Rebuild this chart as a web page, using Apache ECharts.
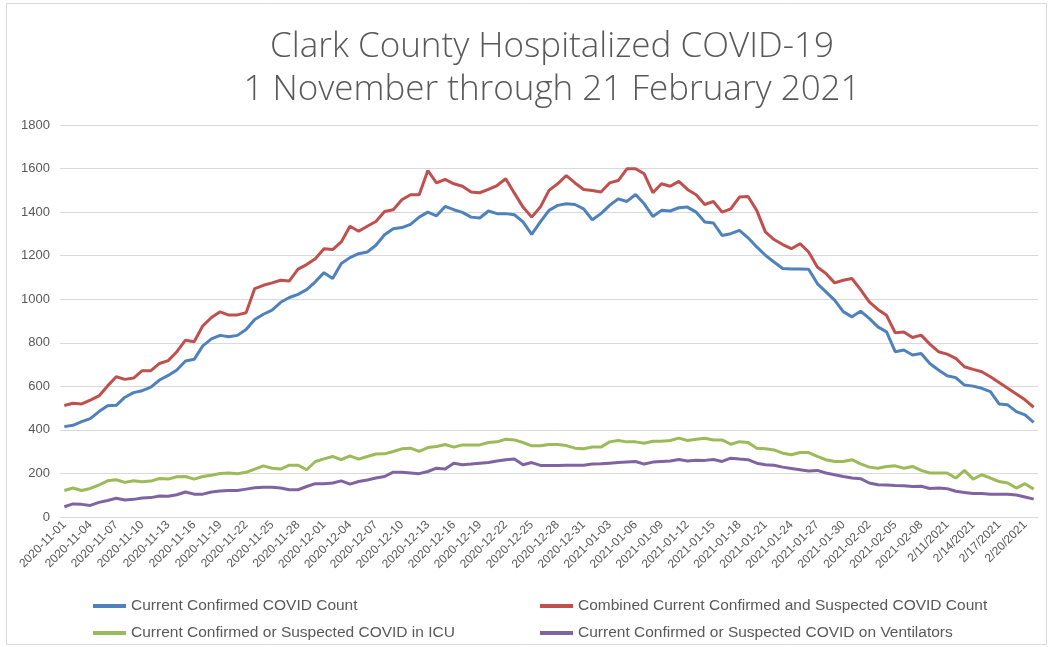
<!DOCTYPE html>
<html>
<head>
<meta charset="utf-8">
<script src="https://cdn.jsdelivr.net/npm/echarts@6/dist/echarts.min.js"></script>
<style>
  html, body { margin: 0; padding: 0; background: #fff; }
  #main { width: 1052px; height: 647px; }
</style>
</head>
<body>
<div id="main"></div>
<script>
// dates 2020-11-01 .. 2021-02-21, the sheet switches to m/d/yyyy on 2/9
var categories = []
var d = new Date(Date.UTC(2020, 10, 1))
var end = new Date(Date.UTC(2021, 1, 21))
while (d <= end) {
  var y = d.getUTCFullYear(), m = d.getUTCMonth() + 1, day = d.getUTCDate()
  if (y === 2021 && m === 2 && day >= 9) {
    categories.push(m + '/' + day + '/' + y)
  } else {
    categories.push(y + '-' + (m < 10 ? '0' + m : m) + '-' + (day < 10 ? '0' + day : day))
  }
  d.setUTCDate(d.getUTCDate() + 1)
}

var confirmed = [
  415, 421, 438, 452, 484, 511, 513, 550, 571, 580, 596, 629, 650, 675, 716, 724, 786, 818, 834,
  828, 834, 861, 907, 931, 950, 986, 1008, 1022, 1044, 1080, 1122, 1095, 1164, 1191, 1209, 1217, 1248, 1296,
  1324, 1329, 1344, 1377, 1400, 1383, 1426, 1411, 1399, 1377, 1373, 1405, 1393, 1393, 1388, 1355, 1298, 1355, 1408,
  1431, 1438, 1435, 1415, 1365, 1393, 1431, 1461, 1449, 1481, 1438, 1380, 1408, 1405, 1420, 1423, 1400, 1355, 1350,
  1293, 1301, 1316, 1282, 1240, 1202, 1171, 1141, 1139, 1139, 1138, 1072, 1034, 996, 943, 919, 945, 912, 873,
  850, 759, 767, 744, 751, 705, 675, 649, 640, 606, 601, 591, 576, 519, 515, 484, 469, 434
]
var combined = [
  512, 522, 519, 537, 556, 602, 644, 632, 638, 672, 672, 705, 718, 759, 812, 805, 878, 916, 942,
  927, 928, 938, 1049, 1064, 1075, 1087, 1084, 1138, 1159, 1186, 1232, 1228, 1263, 1335, 1312, 1335, 1357, 1403,
  1411, 1457, 1480, 1480, 1591, 1534, 1550, 1530, 1519, 1492, 1489, 1504, 1522, 1553, 1487, 1423, 1377, 1423, 1500,
  1530, 1568, 1534, 1504, 1499, 1492, 1534, 1545, 1599, 1599, 1576, 1489, 1530, 1519, 1541, 1504, 1480, 1435, 1449,
  1400, 1415, 1469, 1472, 1408, 1309, 1274, 1251, 1232, 1255, 1217, 1148, 1118, 1075, 1087, 1095, 1044, 988, 953,
  926, 846, 850, 824, 835, 794, 759, 748, 728, 690, 678, 667, 644, 618, 591, 565, 538, 504
]
var icu = [
  122, 133, 122, 131, 147, 166, 171, 159, 166, 162, 165, 177, 174, 185, 186, 174, 186, 192, 200,
  202, 199, 205, 220, 235, 224, 220, 238, 238, 217, 255, 267, 278, 263, 281, 266, 278, 289, 290,
  301, 313, 316, 301, 319, 324, 333, 321, 331, 331, 331, 342, 345, 357, 354, 342, 327, 327, 333,
  333, 328, 316, 313, 321, 321, 345, 351, 345, 345, 339, 348, 348, 351, 362, 351, 357, 362, 354,
  354, 334, 346, 342, 316, 313, 308, 293, 286, 296, 296, 278, 263, 255, 255, 263, 244, 229, 224,
  232, 235, 224, 232, 214, 202, 202, 202, 179, 214, 174, 194, 179, 163, 156, 133, 153, 128
]
var ventilators = [
  47, 60, 58, 53, 67, 76, 86, 78, 81, 87, 89, 96, 95, 102, 115, 105, 105, 115, 119,
  122, 122, 128, 134, 137, 137, 133, 125, 125, 140, 153, 153, 156, 166, 151, 163, 170, 179, 186,
  206, 205, 202, 199, 209, 224, 220, 247, 240, 243, 247, 250, 257, 263, 266, 240, 250, 237, 237,
  237, 238, 238, 238, 243, 244, 247, 250, 253, 255, 243, 252, 255, 257, 264, 257, 261, 260, 264,
  255, 270, 266, 263, 247, 240, 238, 229, 223, 217, 211, 214, 202, 194, 186, 179, 176, 156, 148,
  147, 145, 144, 140, 141, 131, 133, 130, 118, 113, 108, 108, 105, 104, 104, 101, 92, 82
]
var seriesNames = [
  'Current Confirmed COVID Count',
  'Combined Current Confirmed and Suspected COVID Count',
  'Current Confirmed or Suspected COVID in ICU',
  'Current Confirmed or Suspected COVID on Ventilators'
]
var colors = ['#4F81BD', '#C0504D', '#9BBB59', '#8064A2']

var textGray = '#595959'
var legendText = { color: textGray, fontSize: 15.5, fontFamily: 'Liberation Sans' }

function line (i, data) {
  return {
    name: seriesNames[i],
    type: 'line',
    data: data,
    symbol: 'none',
    lineStyle: { width: 3, color: colors[i] },
    itemStyle: { color: colors[i] }
  }
}

// two stacked legend columns like the Excel layout
function legendCol (names, left) {
  return {
    data: names,
    orient: 'vertical',
    left: left,
    top: 598,
    height: 48,
    padding: 0,
    itemGap: 11,
    itemWidth: 33,
    itemHeight: 4,
    icon: 'rect',
    textStyle: legendText
  }
}

var myChart = echarts.init(document.getElementById('main'))
myChart.setOption({
  animation: false,
  title: {
    text: 'Clark County Hospitalized COVID-19\n1 November through 21 February 2021',
    left: 547,
    top: 21,
    textAlign: 'center',
    textStyle: {
      color: textGray,
      fontSize: 35,
      fontWeight: 300,
      fontFamily: 'Open Sans',
      lineHeight: 43
    }
  },
  legend: [
    legendCol([seriesNames[0], seriesNames[2]], 93),
    legendCol([seriesNames[1], seriesNames[3]], 540)
  ],
  grid: { left: 60, right: 14, top: 125, bottom: 130 },
  xAxis: {
    type: 'category',
    data: categories,
    boundaryGap: true,
    axisLine: { lineStyle: { color: '#d9d9d9', width: 1 } },
    axisTick: { show: false },
    axisLabel: {
      interval: 2,
      rotate: 45,
      color: textGray,
      fontSize: 12,
      fontFamily: 'Liberation Sans',
      margin: 6
    }
  },
  yAxis: {
    type: 'value',
    min: 0,
    max: 1800,
    interval: 200,
    axisLine: { show: false },
    axisTick: { show: false },
    splitLine: { lineStyle: { color: '#d9d9d9', width: 1 } },
    axisLabel: {
      color: textGray,
      fontSize: 13,
      fontFamily: 'Liberation Sans',
      margin: 10,
      formatter: function (v) { return String(v) }
    }
  },
  series: [
    line(0, confirmed),
    line(1, combined),
    line(2, icu),
    line(3, ventilators)
  ],
  graphic: [
    {
      type: 'rect',
      shape: { x: 6.5, y: 3.5, width: 1040, height: 641 },
      style: { fill: 'none', stroke: '#d9d9d9', lineWidth: 1 },
      silent: true
    }
  ]
})
</script>
</body>
</html>
